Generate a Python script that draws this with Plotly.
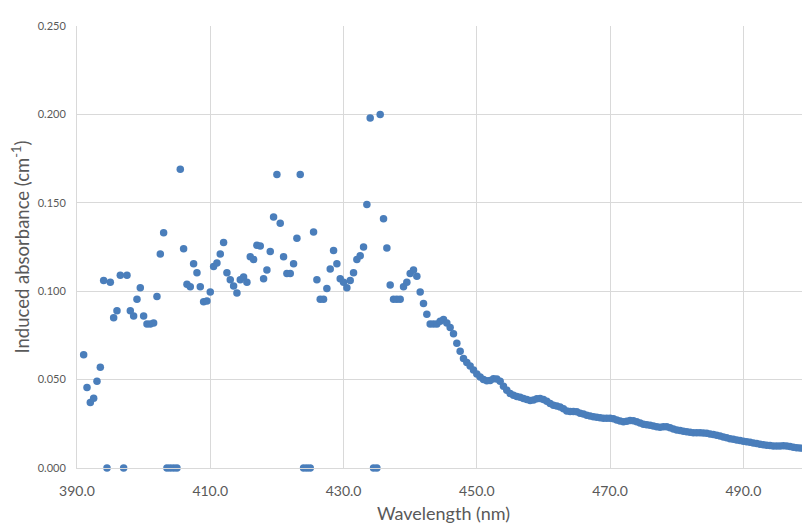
import plotly.graph_objects as go

wavelength_start = 391.0
wavelength_step = 0.5

absorbance = [
    0.064, 0.0455, 0.037, 0.0395, 0.049, 0.057, 0.106, 0.0, 0.105, 0.085,
    0.089, 0.109, 0.0, 0.109, 0.089, 0.086, 0.0955, 0.102, 0.086, 0.0815,
    0.0815, 0.082, 0.097, 0.121, 0.133, 0.0, 0.0, 0.0, 0.0, 0.169,
    0.124, 0.104, 0.1025, 0.1155, 0.1105, 0.1025, 0.094, 0.0945, 0.0995, 0.114,
    0.116, 0.121, 0.1275, 0.1105, 0.1065, 0.103, 0.099, 0.1065, 0.108, 0.105,
    0.1195, 0.118, 0.126, 0.1255, 0.107, 0.112, 0.1225, 0.142, 0.166, 0.1385,
    0.1195, 0.11, 0.11, 0.1155, 0.13, 0.166, 0.0, 0.0, 0.0, 0.1335,
    0.1065, 0.0955, 0.0955, 0.1015, 0.1125, 0.123, 0.1155, 0.107, 0.105, 0.102,
    0.106, 0.1105, 0.118, 0.120, 0.125, 0.149, 0.198, 0.0, 0.0, 0.200,
    0.141, 0.1245, 0.1035, 0.0955, 0.0955, 0.0955, 0.1025, 0.105, 0.110, 0.112,
    0.1085, 0.0995, 0.093, 0.087, 0.0815, 0.0815, 0.0815, 0.083, 0.084, 0.082,
    0.0795, 0.076, 0.0705, 0.066, 0.062, 0.0597, 0.0577, 0.0555, 0.0532,
    # 450.5 nm onward
    0.0515, 0.0500, 0.0493, 0.0495, 0.0505, 0.0503, 0.0490, 0.0462, 0.0440, 0.0422,
    0.0412, 0.0405, 0.0400, 0.0393, 0.0388, 0.0382, 0.0385, 0.0392, 0.0393, 0.0388,
    0.0378, 0.0365, 0.0355, 0.0350, 0.0345, 0.0335, 0.0322, 0.0320, 0.0320, 0.0318,
    0.0310, 0.0305, 0.0299, 0.0294, 0.0290, 0.0287, 0.0284, 0.0282, 0.0281, 0.0281,
    0.0278, 0.0272, 0.0266, 0.0262, 0.0264, 0.0268, 0.0267, 0.0262, 0.0255, 0.0248,
    0.0244, 0.0242, 0.0238, 0.0233, 0.0230, 0.0233, 0.0234, 0.0228, 0.0220, 0.0215,
    0.0212, 0.0208, 0.0205, 0.0202, 0.0200, 0.0200, 0.0199, 0.0198, 0.0196, 0.0193,
    0.0189, 0.0185, 0.0181, 0.0176, 0.0171, 0.0166, 0.0162, 0.0158, 0.0155, 0.0152,
    0.0149, 0.0146, 0.0142, 0.0138, 0.0134, 0.0131, 0.0129, 0.0127, 0.0125, 0.0124,
    0.0124, 0.0126, 0.0125, 0.0121, 0.0117, 0.0115, 0.0113, 0.0112, 0.0111, 0.0110,
]
wavelength = [wavelength_start + wavelength_step * i for i in range(len(absorbance))]

x_ticks = [390, 410, 430, 450, 470, 490]
x_tick_labels = ["390.0", "410.0", "430.0", "450.0", "470.0", "490.0"]
y_ticks = [0.0, 0.05, 0.10, 0.15, 0.20, 0.25]
y_tick_labels = ["0.000", "0.050", "0.100", "0.150", "0.200", "0.250"]

fig = go.Figure()
fig.add_trace(go.Scatter(
    x=wavelength, y=absorbance, mode="markers",
    marker=dict(color="#4A7EBB", size=7.5, line=dict(width=0)),
    cliponaxis=False, showlegend=False,
))

font_family = "Lato, 'Open Sans', sans-serif"
fig.update_layout(
    width=802, height=516,
    margin=dict(l=69, r=0, t=18, b=56),
    paper_bgcolor="white", plot_bgcolor="white",
    font=dict(family=font_family, color="#595959"),
    xaxis=dict(
        range=[390, 500], tickvals=x_ticks, ticktext=x_tick_labels,
        automargin=False,
        showgrid=True, gridcolor="#d9d9d9", gridwidth=1,
        showline=True, linecolor="#d9d9d9", linewidth=1,
        ticks="outside", ticklen=10, tickcolor="rgba(0,0,0,0)",
        tickfont=dict(size=14, color="#595959"),
        title=dict(text="Wavelength (nm)", font=dict(size=18, color="#595959"), standoff=14),
        zeroline=False,
    ),
    yaxis=dict(
        range=[0, 0.25], tickvals=y_ticks, ticktext=y_tick_labels,
        automargin=False,
        showgrid=True, gridcolor="#d9d9d9", gridwidth=1,
        showline=True, linecolor="#d9d9d9", linewidth=1,
        ticks="outside", ticklen=8, tickcolor="rgba(0,0,0,0)",
        tickfont=dict(size=11, color="#595959"),
        title=dict(text="Induced absorbance (cm<sup>-1</sup>)", font=dict(size=18.5, color="#595959"), standoff=8),
        zeroline=False,
    ),
)

fig.write_html("out.html")
